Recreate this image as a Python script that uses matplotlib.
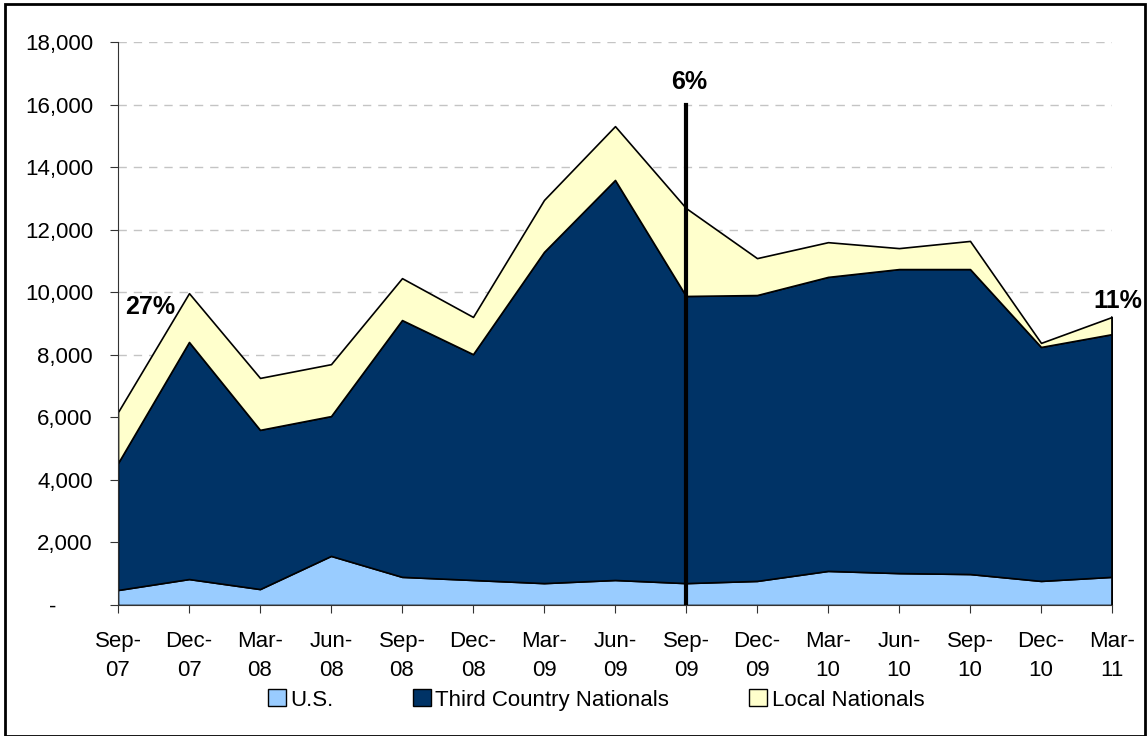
import numpy as np
import matplotlib.pyplot as plt
from matplotlib.patches import Patch, Rectangle
from matplotlib.ticker import FuncFormatter

plt.rcParams['font.family'] = ['Liberation Sans', 'DejaVu Sans']

# quarterly contractor headcount
quarters = ['Sep-\n07', 'Dec-\n07', 'Mar-\n08', 'Jun-\n08', 'Sep-\n08', 'Dec-\n08',
            'Mar-\n09', 'Jun-\n09', 'Sep-\n09', 'Dec-\n09', 'Mar-\n10', 'Jun-\n10',
            'Sep-\n10', 'Dec-\n10', 'Mar-\n11']
us = [480, 830, 510, 1570, 900, 800, 700, 800, 700, 770, 1090, 1020, 990, 770, 900]
# cumulative tops
tcn_top = [4540, 8410, 5600, 6040, 9110, 8020, 11290, 13590, 9880, 9910, 10490,
           10740, 10740, 8250, 8660]
total_top = [6170, 9970, 7260, 7700, 10450, 9210, 12950, 15310, 12690, 11090,
             11600, 11410, 11640, 8380, 9210]

tcn = [t - u for t, u in zip(tcn_top, us)]
ln = [t - c for t, c in zip(total_top, tcn_top)]

c_us = '#99ccff'
c_tcn = '#003366'
c_ln = '#ffffcc'

fig = plt.figure(figsize=(11.47, 7.36), dpi=100)
ax = fig.add_axes([118 / 1147, 1 - 605 / 736, (1112 - 118) / 1147, (605 - 42) / 736])

x = np.arange(len(quarters))
ax.stackplot(x, us, tcn, ln, colors=[c_us, c_tcn, c_ln], edgecolor='black',
             linewidth=1.2, labels=['U.S.', 'Third Country Nationals', 'Local Nationals'])
# right edge of the stack
ax.plot([x[-1], x[-1]], [0, total_top[-1]], color='black', lw=1.2)

ax.set_xlim(0, 14)
ax.set_ylim(0, 18000)
ax.set_yticks(np.arange(0, 18001, 2000))
ax.yaxis.set_major_formatter(FuncFormatter(lambda v, p: '-      ' if v == 0 else f'{int(v):,}'))
ax.set_xticks(x)
ax.set_xticklabels(quarters, linespacing=1.45)
ax.tick_params(axis='both', labelsize=16, direction='out', length=6, color='#333333')
ax.tick_params(axis='x', pad=13)
ax.tick_params(axis='y', pad=12)

ax.grid(axis='y', linestyle=(0, (6, 5)), color='#c4c4c4', linewidth=1)
ax.set_axisbelow(True)
for s in ['top', 'right']:
    ax.spines[s].set_visible(False)
ax.spines['left'].set_color('#333333')
ax.spines['bottom'].set_color('#333333')
ax.spines['bottom'].set_zorder(5)

# vertical marker at Sep-09
ax.plot([8, 8], [0, 16000], color='black', lw=3, zorder=6)

ax.text(0.1, 9150, '27%', fontsize=18, fontweight='bold', ha='left', va='bottom')
ax.text(8.05, 16350, '6%', fontsize=18, fontweight='bold', ha='center', va='bottom')
ax.text(14.42, 9350, '11%', fontsize=18, fontweight='bold', ha='right', va='bottom')

handles = [Patch(facecolor=c, edgecolor='black') for c in (c_us, c_tcn, c_ln)]
fig.legend(handles, ['U.S.', 'Third Country Nationals', 'Local Nationals'],
           loc='center', bbox_to_anchor=(596 / 1147, 1 - 700 / 736), ncol=3,
           frameon=False, fontsize=16, handlelength=0.8, handleheight=0.8,
           handletextpad=0.2, columnspacing=3.6)

fig.patches.append(Rectangle((5 / 1147, 0.0), 1 - 7 / 1147, 1 - 4 / 736,
                             transform=fig.transFigure, fill=False,
                             edgecolor='black', linewidth=2))

fig.savefig('out.png', dpi=100)
